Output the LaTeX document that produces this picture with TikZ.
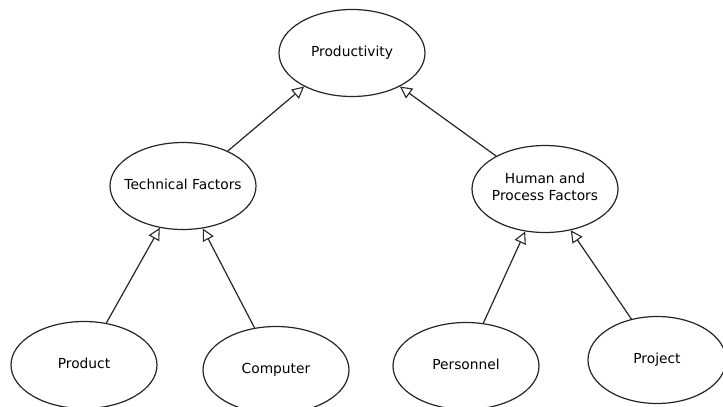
\documentclass[tikz,border=0pt]{standalone}
\usepackage{fontspec}
\setmainfont{DejaVu Sans}
\usetikzlibrary{shapes.geometric,arrows.meta}
% text set in a zero-width box so every ellipse keeps the same size
\newcommand{\goaltext}[1]{\makebox[0pt]{\begin{tabular}{@{}c@{}}#1\end{tabular}}}
\begin{document}
\begin{tikzpicture}[x=1pt,y=-1pt,
  goal/.style={ellipse,draw=black!85,line width=1.2pt,fill=white,
    minimum width=146pt,minimum height=87pt,inner sep=0pt,
    font=\fontsize{13.8}{17}\selectfont},
  link/.style={draw=black!85,line width=1.2pt,
    -{Triangle[open,length=12pt,width=12pt,line width=1.1pt]}}]
\useasboundingbox[fill=white] (0,0) rectangle (723,407);
% goal nodes
\node[goal] (prod) at (352,53) {\goaltext{Productivity}};
\node[goal] (tech) at (183,186) {\goaltext{Technical Factors}};
\node[goal] (hum) at (545,189) {\goaltext{Human and\\Process Factors}};
\node[goal] (pdt) at (84,365) {\goaltext{Product}};
\node[goal] (comp) at (276,370) {\goaltext{Computer}};
\node[goal] (pers) at (466,366) {\goaltext{Personnel}};
\node[goal,minimum width=138pt] (proj) at (657,360) {\goaltext{Project}};
% contribution links
\draw[link] (tech.38) -- (prod.215);
\draw[link] (hum.146) -- (prod.325);
\draw[link] (pdt.62) -- (tech.241);
\draw[link] (comp.117) -- (tech.295);
\draw[link] (pers.68) -- (hum.245);
\draw[link] (proj.122) -- (hum.302);
\end{tikzpicture}
\end{document}
